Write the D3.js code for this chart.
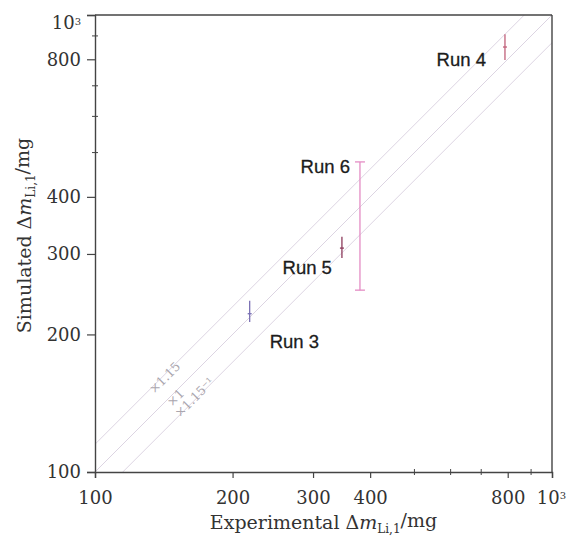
<!DOCTYPE html>
<html>
<head>
<meta charset="utf-8">
<script src="https://cdn.jsdelivr.net/npm/d3@7"></script>
<style>
  body { margin: 0; background: #fff; }
  svg { display: block; }
</style>
</head>
<body>
<div id="chart"></div>
<script>
// data
const runs = ["Run 3", "Run 5", "Run 6", "Run 4"]
const experimental = [218, 347, 380, 789]
const simulated = [222, 309, 338, 851]
const simLow = [213, 294, 250, 797]
const simHigh = [237, 327, 477, 908]
const runColors = ["#7a70b4", "#8c3a5a", "#e48cc4", "#c0607a"]

const majorTicks = [100, 200, 300, 400, 800, 1000]
const minorTicks = [500, 600, 700, 900]
const factors = [1.15, 1, 1 / 1.15]
const factorLabels = ["×1.15", "×1", "×1.15⁻¹"]

// dimensions
let dimensions = {
    width: 569,
    height: 540,
    margin: { top: 15, right: 17, bottom: 68, left: 95 }
}
dimensions.boundedWidth = dimensions.width - dimensions.margin.left - dimensions.margin.right
dimensions.boundedHeight = dimensions.height - dimensions.margin.top - dimensions.margin.bottom

const wrapper = d3.select("#chart")
    .append("svg")
    .attr("width", dimensions.width)
    .attr("height", dimensions.height)

const bounds = wrapper.append("g")
    .attr("transform", `translate(${dimensions.margin.left},${dimensions.margin.top})`)

// scales
const xScale = d3.scaleLog()
    .domain([100, 1000])
    .range([0, dimensions.boundedWidth])

const yScale = d3.scaleLog()
    .domain([100, 1000])
    .range([dimensions.boundedHeight, 0])

const tickFormat = d => d === 1000 ? "" : d

// parity lines
bounds.append("clipPath").attr("id", "plot-clip")
    .append("rect")
    .attr("width", dimensions.boundedWidth)
    .attr("height", dimensions.boundedHeight)

const lineGroup = bounds.append("g").attr("clip-path", "url(#plot-clip)")
const diag = d3.line()
    .x(d => xScale(d[0]))
    .y(d => yScale(d[1]))

factors.forEach(f => {
    lineGroup.append("path")
        .attr("d", diag([[50, 50 * f], [2000, 2000 * f]]))
        .attr("fill", "none")
        .attr("stroke", "#dcd4e2")
        .attr("stroke-width", 1)
})

// labels along the lines
const labelX = [142, 150, 165]
const labelShift = [3, 6, -3]
factors.forEach((f, i) => {
    const px = xScale(labelX[i])
    const py = yScale(labelX[i] * f) + labelShift[i]
    bounds.append("text")
        .attr("transform", `translate(${px},${py}) rotate(-45)`)
        .attr("text-anchor", "middle")
        .attr("dy", "0.35em")
        .style("font-family", "'DejaVu Serif', serif")
        .style("font-size", "12.5px")
        .attr("fill", "#aaa6ae")
        .text(factorLabels[i])
})

// error bars
runs.forEach((r, i) => {
    const x = xScale(experimental[i])
    const g = bounds.append("g").attr("stroke", runColors[i]).attr("stroke-width", 1.3)
    g.append("line")
        .attr("x1", x).attr("x2", x)
        .attr("y1", yScale(simLow[i])).attr("y2", yScale(simHigh[i]))
    if (r === "Run 6") {
        g.selectAll("line.cap")
            .data([simLow[i], simHigh[i]])
            .join("line")
            .attr("class", "cap")
            .attr("x1", x - 5).attr("x2", x + 5)
            .attr("y1", d => yScale(d)).attr("y2", d => yScale(d))
    } else {
        g.append("line")
            .attr("x1", x - 2).attr("x2", x + 2)
            .attr("y1", yScale(simulated[i])).attr("y2", yScale(simulated[i]))
    }
})

// run labels
const runLabelPos = [
    { dx: 20, dy: 34, anchor: "start" },
    { dx: -10, dy: 26, anchor: "end" },
    { dx: -10, dy: 11, anchor: "end" },
    { dx: -19, dy: 19, anchor: "end" }
]
runs.forEach((r, i) => {
    const p = runLabelPos[i]
    const yRef = r === "Run 6" ? yScale(simHigh[i]) : yScale(simulated[i])
    bounds.append("text")
        .attr("x", xScale(experimental[i]) + p.dx)
        .attr("y", yRef + p.dy)
        .attr("text-anchor", p.anchor)
        .style("font-family", "'Liberation Sans', Arial, sans-serif")
        .style("font-size", "18.5px")
        .attr("fill", "#1c1c1c")
        .attr("stroke", "#1c1c1c")
        .attr("stroke-width", 0.3)
        .text(r)
})

// axes
const frameColor = "#444"
const xAxis = bounds.append("g")
    .attr("transform", `translate(0,${dimensions.boundedHeight})`)
    .call(d3.axisBottom(xScale).tickValues(majorTicks).tickFormat(tickFormat).tickSize(6).tickPadding(13))
const yAxis = bounds.append("g")
    .call(d3.axisLeft(yScale).tickValues(majorTicks).tickFormat(tickFormat).tickSize(8).tickPadding(6))

;[xAxis, yAxis].forEach(a => {
    a.select(".domain").attr("stroke", frameColor).attr("stroke-width", 1.4)
    a.selectAll(".tick line").attr("stroke", frameColor).attr("stroke-width", 1.2)
    a.selectAll(".tick text")
        .style("font-family", "'DejaVu Serif', serif")
        .style("font-size", "18px")
        .attr("fill", "#333")
})

// 10^3 labels
const powerLabel = t => {
    t.append("tspan").text("10")
    t.append("tspan").attr("dy", "-0.45em").style("font-size", "10px").text("3")
}
xAxis.selectAll(".tick").filter(d => d === 1000).select("text")
    .attr("text-anchor", "end")
    .attr("dx", "0.75em")
    .call(powerLabel)
yAxis.selectAll(".tick").filter(d => d === 1000).select("text")
    .attr("dy", "0.75em")
    .call(powerLabel)

// minor ticks
bounds.append("g").selectAll("line")
    .data(minorTicks).join("line")
    .attr("x1", d => xScale(d)).attr("x2", d => xScale(d))
    .attr("y1", dimensions.boundedHeight - 3).attr("y2", dimensions.boundedHeight + 3)
    .attr("stroke", frameColor)
bounds.append("g").selectAll("line")
    .data(minorTicks).join("line")
    .attr("y1", d => yScale(d)).attr("y2", d => yScale(d))
    .attr("x1", -3).attr("x2", 3)
    .attr("stroke", frameColor)

// top and right frame
bounds.append("line")
    .attr("x1", 0).attr("x2", dimensions.boundedWidth)
    .attr("y1", 0).attr("y2", 0)
    .attr("stroke", frameColor).attr("stroke-width", 1.4)
bounds.append("line")
    .attr("x1", dimensions.boundedWidth).attr("x2", dimensions.boundedWidth)
    .attr("y1", 0).attr("y2", dimensions.boundedHeight)
    .attr("stroke", frameColor).attr("stroke-width", 1.4)

// axis titles
const addTitle = (sel, word) => {
    sel.append("tspan").text(word + " Δ")
    sel.append("tspan").style("font-style", "italic").text("m")
    sel.append("tspan").attr("dy", "0.3em").style("font-size", "12px").text("Li,1")
    sel.append("tspan").attr("dy", "-0.3em").text("/mg")
}

const xLabel = wrapper.append("text")
    .attr("x", dimensions.margin.left + dimensions.boundedWidth / 2)
    .attr("y", 529)
    .attr("text-anchor", "middle")
    .style("font-family", "'DejaVu Serif', serif")
    .style("font-size", "19px")
    .attr("fill", "#333")
    .call(addTitle, "Experimental")

const yLabel = wrapper.append("text")
    .attr("transform", `translate(31,${dimensions.margin.top + dimensions.boundedHeight / 2 - 8}) rotate(-90)`)
    .attr("text-anchor", "middle")
    .style("font-family", "'DejaVu Serif', serif")
    .style("font-size", "19px")
    .attr("fill", "#333")
    .call(addTitle, "Simulated")
</script>
</body>
</html>
